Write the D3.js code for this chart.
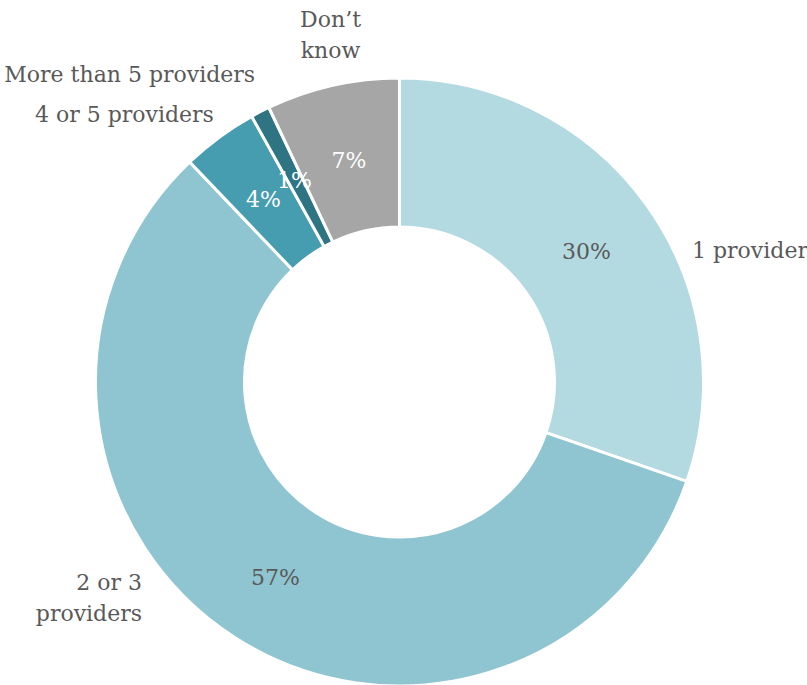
<!DOCTYPE html>
<html>
<head>
<meta charset="utf-8">
<script src="https://cdn.jsdelivr.net/npm/d3@7"></script>
<style>
  html, body { margin: 0; padding: 0; background: #ffffff; }
  svg { display: block; }
  text { font-family: "DejaVu Serif", serif; font-size: 22px; }
</style>
</head>
<body>
<svg id="chart" width="807" height="685"></svg>
<script>
// Number of providers used (share of respondents, %)
const categories = ["1 provider", "2 or 3 providers", "4 or 5 providers", "More than 5 providers", "Don\u2019t know"];
const values = [30, 57, 4, 1, 7];
const valueLabels = ["30%", "57%", "4%", "1%", "7%"];
// Category label lines as drawn outside the ring
const labelLines = [["1 provider"], ["2 or 3", "providers"], ["4 or 5 providers"], ["More than 5 providers"], ["Don\u2019t", "know"]];

const colors = ["#b4dae1", "#8fc5d1", "#479db0", "#2e7483", "#a6a6a6"];
const valueTextColors = ["#595959", "#595959", "#ffffff", "#ffffff", "#ffffff"];
const labelAnchors = ["start", "end", "end", "end", "middle"];
// Offsets of each category label from its slice's outer label point
const labelNudges = [[28.6, 64], [-82.3, -64.6], [6.5, 0.8], [4.1, -12.1], [2.4, -39]];

const width = 807, height = 685;
const cx = 399.5, cy = 382;
const outerR = 304, innerR = 155, labelR = outerR + 20;
const lineHeight = 31;

const svg = d3.select("#chart");
const g = svg.append("g").attr("transform", `translate(${cx},${cy})`);

const data = categories.map((c, i) => ({ category: c, value: values[i], index: i }));

const pie = d3.pie().value(d => d.value).sort(null);
const arcs = pie(data);

const arc = d3.arc().innerRadius(innerR).outerRadius(outerR);
const labelArc = d3.arc().innerRadius(labelR).outerRadius(labelR);

g.selectAll("path.slice")
  .data(arcs)
  .join("path")
  .attr("class", "slice")
  .attr("d", arc)
  .attr("fill", d => colors[d.data.index])
  .attr("stroke", "#ffffff")
  .attr("stroke-width", 3)
  .attr("stroke-linejoin", "miter");

// Percentage labels at the slice centroids
g.selectAll("text.value")
  .data(arcs)
  .join("text")
  .attr("class", "value")
  .attr("x", d => arc.centroid(d)[0])
  .attr("y", d => arc.centroid(d)[1])
  .attr("dy", "0.45em")
  .attr("text-anchor", "middle")
  .attr("fill", d => valueTextColors[d.data.index])
  .text(d => valueLabels[d.data.index]);

// Category labels outside the ring
const cat = g.selectAll("text.category")
  .data(arcs)
  .join("text")
  .attr("class", "category")
  .attr("fill", "#595959")
  .attr("text-anchor", d => labelAnchors[d.data.index])
  .attr("transform", d => {
    const p = labelArc.centroid(d);
    const n = labelNudges[d.data.index];
    return `translate(${p[0] + n[0]},${p[1] + n[1]})`;
  });

cat.selectAll("tspan")
  .data(d => labelLines[d.data.index])
  .join("tspan")
  .attr("x", 0)
  .attr("y", (d, i) => i * lineHeight)
  .text(d => d);
</script>
</body>
</html>
